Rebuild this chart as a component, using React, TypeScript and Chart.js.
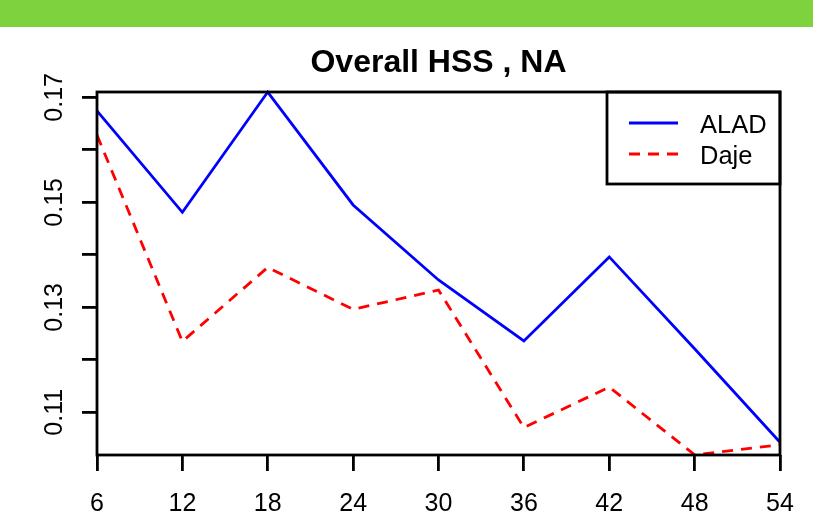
import React, { useEffect, useRef } from "react";
import { Chart, registerables } from "chart.js";

Chart.register(...registerables);

const months = [6, 12, 18, 24, 30, 36, 42, 48, 54];
const aladValues = [0.1674, 0.1481, 0.171, 0.1495, 0.1352, 0.1236, 0.1396, 0.1221, 0.1043];
const dajeValues = [0.1628, 0.1235, 0.1376, 0.1296, 0.1333, 0.1071, 0.1148, 0.1019, 0.1038];
const yTicks = [0.11, 0.12, 0.13, 0.14, 0.15, 0.16, 0.17];
const yTickLabels = ["0.11", "", "0.13", "", "0.15", "", "0.17"];
const xTicks = [6, 12, 18, 24, 30, 36, 42, 48, 54];
const seriesNames = ["ALAD", "Daje"];
const titleText = "Overall HSS , NA";

const FONT = "'Liberation Sans', Arial, sans-serif";

const customPlugin = {
  id: "rStyle",
  afterDatasetsDraw(chart: any) {
    const ctx = chart.ctx;
    const ca = chart.chartArea;
    // legend
    const bw = 173;
    const bh = 92;
    const lx = ca.right - bw;
    const ly = ca.top;
    ctx.save();
    ctx.fillStyle = "#fff";
    ctx.fillRect(lx, ly, bw, bh);
    ctx.strokeStyle = "#000";
    ctx.lineWidth = 2.8;
    ctx.strokeRect(lx, ly, bw, bh);
    chart.data.datasets.forEach((ds: any, i: number) => {
      const yy = ly + 31 + i * 31;
      ctx.beginPath();
      ctx.strokeStyle = ds.borderColor;
      ctx.lineWidth = ds.borderWidth;
      ctx.setLineDash(ds.borderDash || []);
      ctx.moveTo(lx + 22, yy);
      ctx.lineTo(lx + 71, yy);
      ctx.stroke();
      ctx.setLineDash([]);
      ctx.fillStyle = "#000";
      ctx.font = `25.5px ${FONT}`;
      ctx.textAlign = "left";
      ctx.textBaseline = "alphabetic";
      ctx.fillText(ds.label, lx + 93, yy + 10);
    });
    ctx.restore();
  },
  afterDraw(chart: any) {
    const ctx = chart.ctx;
    const ca = chart.chartArea;
    const yScale = chart.scales.y;
    ctx.save();
    // box
    ctx.strokeStyle = "#000";
    ctx.lineWidth = 2.8;
    ctx.strokeRect(ca.left, ca.top, ca.right - ca.left, ca.bottom - ca.top);
    // y labels (rotated like R)
    ctx.fillStyle = "#000";
    ctx.font = `25px ${FONT}`;
    ctx.textAlign = "center";
    ctx.textBaseline = "alphabetic";
    yTicks.forEach((v, i) => {
      const lbl = yTickLabels[i];
      if (!lbl) return;
      const py = yScale.getPixelForValue(v);
      ctx.save();
      ctx.translate(ca.left - 35.5, py);
      ctx.rotate(-Math.PI / 2);
      ctx.fillText(lbl, 0, 0);
      ctx.restore();
    });
    // title
    ctx.font = `bold 32px ${FONT}`;
    ctx.textAlign = "center";
    ctx.fillText(titleText, (ca.left + ca.right) / 2, 72);
    ctx.restore();
  },
};

export default function App() {
  const ref = useRef<HTMLCanvasElement | null>(null);
  useEffect(() => {
    if (!ref.current) return;
    const chart = new Chart(ref.current, {
      type: "line",
      data: {
        datasets: [
          {
            label: seriesNames[0],
            data: months.map((m, i) => ({ x: m, y: aladValues[i] })),
            borderColor: "#0000ff",
            borderWidth: 2.8,
            pointRadius: 0,
            fill: false,
            tension: 0,
            clip: false as any,
          },
          {
            label: seriesNames[1],
            data: months.map((m, i) => ({ x: m, y: dajeValues[i] })),
            borderColor: "#ff0000",
            borderWidth: 2.8,
            borderDash: [11, 8],
            pointRadius: 0,
            fill: false,
            tension: 0,
            clip: false as any,
          },
        ],
      },
      options: {
        animation: false,
        responsive: false,
        maintainAspectRatio: false,
        layout: { padding: { top: 92, right: 33, left: 0, bottom: 0 } },
        plugins: {
          legend: { display: false },
          title: { display: false },
          tooltip: { enabled: false },
        },
        scales: {
          x: {
            type: "linear",
            position: "bottom",
            min: 6,
            max: 54,
            afterBuildTicks: (axis: any) => {
              axis.ticks = xTicks.map((v) => ({ value: v }));
            },
            afterFit: (axis: any) => {
              axis.height = 66;
            },
            grid: {
              drawOnChartArea: false,
              drawTicks: true,
              tickLength: 16,
              color: "#000",
              lineWidth: 2.8,
            },
            border: { display: false },
            ticks: {
              color: "#000",
              font: { family: FONT, size: 25 },
              padding: 18,
              maxRotation: 0,
              autoSkip: false,
              callback: (v: any) => String(v),
            },
          },
          y: {
            type: "linear",
            position: "left",
            min: 0.10187,
            max: 0.17101,
            afterBuildTicks: (axis: any) => {
              axis.ticks = yTicks.map((v) => ({ value: v }));
            },
            afterFit: (axis: any) => {
              axis.width = 97;
            },
            grid: {
              drawOnChartArea: false,
              drawTicks: true,
              tickLength: 15,
              color: "#000",
              lineWidth: 2.8,
            },
            border: { display: false },
            ticks: { display: false },
          },
        },
      },
      plugins: [customPlugin],
    });
    return () => chart.destroy();
  }, []);

  return (
    <div style={{ position: "absolute", left: 0, top: 0, width: 813, height: 521, background: "#fff", overflow: "hidden" }}>
      <canvas ref={ref} width={813} height={521} style={{ position: "absolute", left: 0, top: 0, width: 813, height: 521 }} />
      <div style={{ position: "absolute", left: 0, top: 0, width: 813, height: 27, background: "#7ed23e" }} />
    </div>
  );
}
